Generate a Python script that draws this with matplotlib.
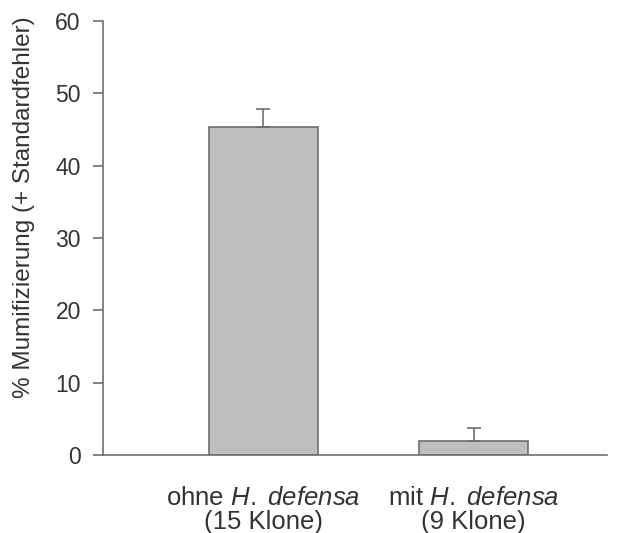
import matplotlib
matplotlib.use("Agg")
import matplotlib.pyplot as plt

plt.rcParams['font.family'] = ['Liberation Sans', 'DejaVu Sans']
plt.rcParams['mathtext.fontset'] = 'custom'
plt.rcParams['mathtext.rm'] = 'Liberation Sans'
plt.rcParams['mathtext.it'] = 'Liberation Sans:italic'

# data
groups = ["ohne $\\it{H.}$ $\\it{defensa}$\n(15 Klone)", "mit $\\it{H.}$ $\\it{defensa}$\n(9 Klone)"]
mumifizierung = [45.3, 1.9]
standardfehler = [2.5, 1.8]

txt = '#333333'
fig = plt.figure(figsize=(6.34, 5.33), dpi=100)
ax = fig.add_axes([0.1625, 0.1463, 0.7945, 0.8143])

x = list(range(len(groups)))
ax.bar(x, mumifizierung, width=0.52, color='#bfbfc2', edgecolor='#6e6e6e', linewidth=1.2, zorder=2)
ax.errorbar(x, mumifizierung, yerr=[[0] * len(x), standardfehler], fmt='none',
            ecolor='#6e6e6e', elinewidth=1.2, capsize=5, capthick=1.2, zorder=3)

ax.set_xlim(-0.762, 1.632)
ax.set_ylim(0, 60)
ax.set_yticks(range(0, 61, 10))
ax.set_xticks(x)
ax.set_xticklabels(groups, fontsize=18.5, color=txt, linespacing=1.0)
ax.tick_params(axis='x', length=0, pad=22)
ax.tick_params(axis='y', labelsize=16.5, labelcolor=txt, color='#6e6e6e', length=7, width=1.2, direction='out', pad=9)
ax.set_ylabel('% Mumifizierung (+ Standardfehler)', fontsize=17.5, color=txt)
ax.yaxis.set_label_coords(-0.135, 0.571)

for s in ['top', 'right']:
    ax.spines[s].set_visible(False)
for s in ['left', 'bottom']:
    ax.spines[s].set_color('#6e6e6e')
    ax.spines[s].set_linewidth(1.2)

fig.savefig('out.png', dpi=100)
